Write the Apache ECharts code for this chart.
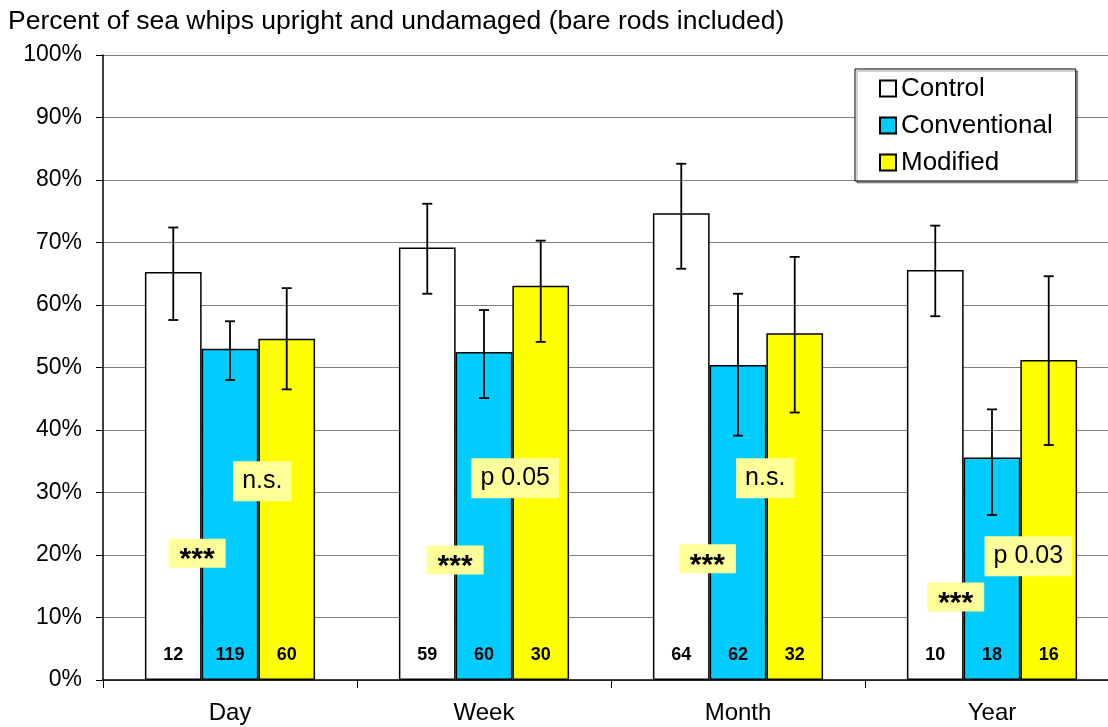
<!DOCTYPE html>
<html>
<head>
<meta charset="utf-8">
<script src="https://cdn.jsdelivr.net/npm/echarts@6/dist/echarts.min.js"></script>
<style>
  html, body { margin: 0; padding: 0; background: #fff; }
  #chart { width: 1108px; height: 727px; }
</style>
</head>
<body>
<div id="chart"></div>
<script>
const categories = ['Day', 'Week', 'Month', 'Year']
const seriesNames = ['Control', 'Conventional', 'Modified']

const control = [65.3, 69.2, 74.7, 65.6]
const conventional = [53.0, 52.5, 50.4, 35.6]
const modified = [54.6, 63.1, 55.5, 51.2]

const controlLow = [57.6, 61.8, 65.8, 58.2]
const controlHigh = [72.4, 76.2, 82.6, 72.7]
const conventionalLow = [48.0, 45.1, 39.1, 26.4]
const conventionalHigh = [57.4, 59.2, 61.8, 43.3]
const modifiedLow = [46.5, 54.1, 42.8, 37.6]
const modifiedHigh = [62.7, 70.3, 67.7, 64.6]

const controlCounts = [12, 59, 64, 10]
const conventionalCounts = [119, 60, 62, 18]
const modifiedCounts = [60, 30, 32, 16]

const yTicks = [0, 10, 20, 30, 40, 50, 60, 70, 80, 90, 100]

// significance notes: category, value, offset in bar widths from category centre
const noteText = ['***', 'n.s.', '***', 'p 0.05', '***', 'n.s.', '***', 'p 0.03']
const noteCategory = [0, 0, 1, 1, 2, 2, 3, 3]
const noteValue = [20.3, 31.8, 19.2, 32.3, 19.4, 32.3, 13.3, 19.8]
const noteSlot = [-0.58, 0.57, -0.51, 0.55, -0.54, 0.48, -0.64, 0.64]

const FONT = '"Liberation Sans", Arial, sans-serif'
const colors = ['#FFFFFF', '#00CCFF', '#FFFF00']
const noteColor = '#FFFF99'
const barGapRatio = 0.33

const values = [control, conventional, modified]
const lows = [controlLow, conventionalLow, modifiedLow]
const highs = [controlHigh, conventionalHigh, modifiedHigh]
const counts = [controlCounts, conventionalCounts, modifiedCounts]

const chart = echarts.init(document.getElementById('chart'))

const barSeries = seriesNames.map((name, i) => ({
  name: name,
  type: 'bar',
  data: values[i].map((v, j) => ({ value: v, count: counts[i][j] })),
  barGap: '0%',
  barCategoryGap: (barGapRatio * 100) + '%',
  itemStyle: { color: colors[i], borderColor: '#000', borderWidth: 1.5 },
  label: {
    show: true,
    position: 'insideBottom',
    distance: 16,
    formatter: p => p.data.count,
    color: '#000',
    fontFamily: FONT,
    fontWeight: 'bold',
    fontSize: 18
  },
  emphasis: { disabled: true },
  z: 2
}))

const errorSeries = seriesNames.map((name, i) => ({
  type: 'custom',
  name: name + ' error',
  data: categories.map((c, j) => [j, lows[i][j], highs[i][j]]),
  z: 10,
  silent: true,
  renderItem: (params, api) => {
    const idx = api.value(0)
    const lo = api.coord([idx, api.value(1)])
    const hi = api.coord([idx, api.value(2)])
    const band = api.size([1, 0])[0]
    const barW = band * (1 - barGapRatio) / 3
    const x = lo[0] + (i - 1) * barW
    const cap = 5
    const style = { stroke: '#000', lineWidth: 1.8 }
    return {
      type: 'group',
      children: [
        { type: 'line', shape: { x1: x, y1: lo[1], x2: x, y2: hi[1] }, style },
        { type: 'line', shape: { x1: x - cap, y1: lo[1], x2: x + cap, y2: lo[1] }, style },
        { type: 'line', shape: { x1: x - cap, y1: hi[1], x2: x + cap, y2: hi[1] }, style }
      ]
    }
  }
}))

const noteSeries = {
  type: 'custom',
  name: 'notes',
  data: noteText.map((t, k) => [noteCategory[k], noteValue[k], noteSlot[k]]),
  z: 20,
  silent: true,
  renderItem: (params, api) => {
    const k = params.dataIndex
    const pt = api.coord([api.value(0), api.value(1)])
    const band = api.size([1, 0])[0]
    const barW = band * (1 - barGapRatio) / 3
    const x = pt[0] + api.value(2) * barW
    const text = noteText[k]
    if (text === '***') {
      // asterisks sit high in the font, so draw the box separately
      return {
        type: 'group',
        children: [
          { type: 'rect', shape: { x: x - 28.5, y: pt[1] - 14.5, width: 57, height: 29 }, style: { fill: noteColor } },
          {
            type: 'text', x: x, y: pt[1] + 7,
            style: { text: text, fill: '#000', fontFamily: FONT, fontSize: 30, fontWeight: 'bold', align: 'center', verticalAlign: 'middle' }
          }
        ]
      }
    }
    return {
      type: 'text',
      x: x,
      y: pt[1],
      style: {
        text: text,
        fill: '#000',
        fontFamily: FONT,
        fontSize: 25,
        lineHeight: 28,
        align: 'center',
        verticalAlign: 'middle',
        backgroundColor: noteColor,
        padding: [6, 9, 6, 9]
      }
    }
  }
}

const option = {
  animation: false,
  backgroundColor: '#fff',
  title: {
    text: 'Percent of sea whips upright and undamaged (bare rods included)',
    left: 8,
    top: 8,
    padding: 0,
    textStyle: { fontFamily: FONT, fontSize: 26.5, fontWeight: 'normal', color: '#000' }
  },
  legend: {
    data: seriesNames,
    orient: 'vertical',
    left: 855,
    top: 69,
    padding: [5, 23, 4, 24],
    itemGap: 8,
    itemWidth: 16,
    itemHeight: 16,
    icon: 'rect',
    backgroundColor: '#fff',
    borderColor: '#000',
    borderWidth: 1,
    shadowColor: 'rgba(0,0,0,0.35)',
    shadowOffsetX: 2,
    shadowOffsetY: 2,
    shadowBlur: 0,
    textStyle: { fontFamily: FONT, fontSize: 26, color: '#000', lineHeight: 29 },
    selectedMode: false
  },
  grid: { left: 103, width: 1016, top: 55, bottom: 47, outerBoundsMode: 'none', containLabel: false },
  xAxis: {
    type: 'category',
    data: categories,
    axisLine: { lineStyle: { color: '#000', width: 1.5 } },
    axisTick: { show: true, length: 8, lineStyle: { color: '#000', width: 1 } },
    axisLabel: { margin: 21, fontFamily: FONT, fontSize: 24, color: '#000' },
    splitLine: { show: false }
  },
  yAxis: {
    type: 'value',
    min: yTicks[0],
    max: yTicks[yTicks.length - 1],
    interval: yTicks[1] - yTicks[0],
    axisLine: { show: true, lineStyle: { color: '#000', width: 1.5 } },
    axisTick: { show: true, length: 7, lineStyle: { color: '#000' } },
    axisLabel: { formatter: '{value}%', margin: 21, fontFamily: FONT, fontSize: 23, color: '#000' },
    splitLine: { show: true, lineStyle: { color: '#808080', width: 1 } }
  },
  series: [...barSeries, ...errorSeries, noteSeries]
}

chart.setOption(option)
</script>
</body>
</html>
